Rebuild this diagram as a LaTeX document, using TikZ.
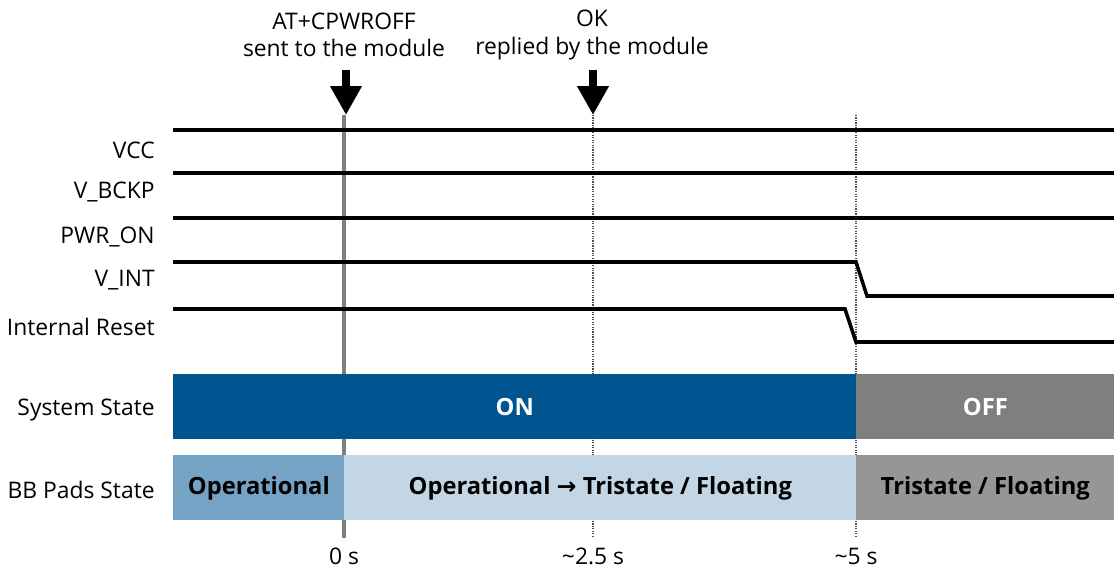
\documentclass[tikz,border=0pt]{standalone}
\usepackage{fontspec}
\setmainfont{Open Sans}
\newfontfamily\arrowfont{DejaVu Sans}
\usepackage{xcolor}
\usetikzlibrary{
    arrows.meta,
    positioning
}
\definecolor{onblue}{RGB}{0,85,145}
\definecolor{opblue}{RGB}{117,163,198}
\definecolor{transblue}{RGB}{194,214,230}
\definecolor{offgray}{RGB}{127,127,127}
\definecolor{tristgray}{RGB}{150,150,150}
\definecolor{markgray}{RGB}{128,128,128}

\begin{document}
\begin{tikzpicture}[
    x=0.02cm, y=-0.02cm,
    font=\fontsize{13}{15.5}\selectfont,
    signal/.style={line width=2pt},
    signame/.style={anchor=east, inner sep=0pt},
    bar/.style={
        anchor=north west,
        inner sep=0pt,
        minimum height=1.3cm,
        font=\fontsize{13.5}{15}\selectfont\bfseries
    },
    zeroline/.style={line width=2pt, draw=markgray},
    timeline/.style={line width=1pt, draw=markgray!60!black, dash pattern=on 0.7pt off 0.7pt},
    event/.style={-{Triangle[width=0.6cm, length=0.58cm]}, line width=0.16cm}
]
\useasboundingbox (0,0) rectangle (1114,567);

% Events on top
\node[align=center] (cmd) at (344,35) {AT+CPWROFF\\sent to the module};
\node[align=center] (ok) at (592,35) {OK\\replied by the module};

% Time markers
\coordinate (m0top) at (344,115);
\coordinate (m0bot) at (344,538);
\coordinate (m1top) at (593,115);
\coordinate (m1bot) at (593,538);
\coordinate (m2top) at (856,115);
\coordinate (m2bot) at (856,538);

\draw[zeroline] (m0top) -- (m0bot);
\draw[timeline] (m1top) -- (m1bot);
\draw[timeline] (m2top) -- (m2bot);

% Arrows
\coordinate (cmdstart) at (346,70);
\coordinate (okstart) at (593,70);
\draw[event] (cmdstart) -- (m0top -| cmdstart);
\draw[event] (okstart) -- (m1top);

% Signal names
\node[signame] (vcc) at (155,150) {VCC};
\node[signame] (vbckp) at (155,192) {V\_BCKP};
\node[signame] (pwron) at (155,237) {PWR\_ON};
\node[signame] (vint) at (155,280) {V\_INT};
\node[signame] (reset) at (155,327) {Internal Reset};
\node[signame] (sys) at (155,410) {System State};
\node[signame] (pads) at (155,490) {BB Pads State};

% Waveforms
\draw[signal] (173,130) -- (1114,130);
\draw[signal] (173,173) -- (1114,173);
\draw[signal] (173,218) -- (1114,218);
\draw[signal] (173,262) -- (856,262) -- (867,296) -- (1114,296);
\draw[signal] (173,309) -- (845,309) -- (856,342) -- (1114,342);

% System state
\node[bar, fill=onblue, text=white, minimum width=13.66cm] (on) at (173,374) {ON};
\node[bar, fill=offgray, text=white, minimum width=5.16cm] (off) at (856,374) {OFF};

% BB pads state
\node[bar, fill=opblue, minimum width=3.42cm] (oper) at (173,455) {Operational};
\node[bar, fill=transblue, minimum width=10.24cm] (trans) at (344,455)
    {Operational {\arrowfont\bfseries →} Tristate / Floating};
\node[bar, fill=tristgray, minimum width=5.16cm] (trist) at (856,455) {Tristate / Floating};

% Time labels
\node (t0) at (344,556) {0 s};
\node (t1) at (593,556) {\textasciitilde 2.5 s};
\node (t2) at (856,556) {\textasciitilde 5 s};

\end{tikzpicture}
\end{document}
